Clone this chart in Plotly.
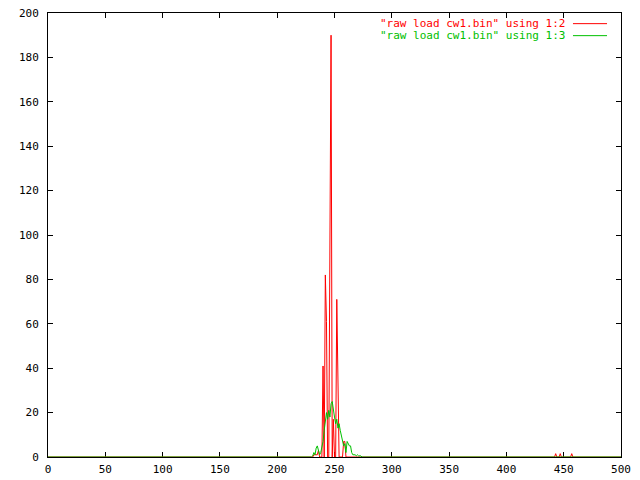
import plotly.graph_objects as go

# ---- data ----
red_x = [0, 231, 232, 233, 234, 235, 236, 237, 239, 240, 241, 242, 243, 244, 245, 246, 247, 248,
         249, 250, 251, 252, 253, 254, 257, 258, 259, 260, 442, 443, 444, 446, 447, 448, 456, 457, 458, 500]
red_y = [0, 0, 1, 1, 1, 1, 3, 0, 0, 41, 0, 82, 61, 0, 0, 95, 190, 0,
         17, 0, 0, 71, 36, 0, 0, 7, 7, 0, 0, 1.5, 0, 0, 1.5, 0, 0, 1.5, 0, 0]

green_x = [0, 230, 231, 232, 233, 234, 235, 236, 237, 238, 239, 240, 241, 242, 243, 244, 245, 246,
           247, 248, 249, 250, 251, 252, 253, 254, 255, 256, 257, 258, 259, 260, 261, 262, 263,
           264, 265, 266, 267, 268, 269, 270, 271, 272, 273, 274, 500]
green_y = [0, 0, 0.5, 2, 1, 4, 5, 3, 1, 2, 4, 7, 12, 16, 20, 17, 21, 18,
           24, 25, 20, 18, 15, 17, 13, 15, 12, 10, 8, 5, 6, 2, 7, 6, 5,
           5, 2, 1, 1, 1, 0.5, 1, 0.5, 0.5, 0.5, 0, 0]

series_names = ['"raw load cw1.bin" using 1:2', '"raw load cw1.bin" using 1:3']
x_ticks = [0, 50, 100, 150, 200, 250, 300, 350, 400, 450, 500]
y_ticks = [0, 20, 40, 60, 80, 100, 120, 140, 160, 180, 200]

RED = "#ff0000"
GREEN = "#00c000"
FONT = "DejaVu Sans Mono"

fig = go.Figure()
fig.add_trace(go.Scatter(x=red_x, y=red_y, mode="lines", line=dict(color=RED, width=1),
                         name=series_names[0], showlegend=False))
fig.add_trace(go.Scatter(x=green_x, y=green_y, mode="lines", line=dict(color=GREEN, width=1),
                         name=series_names[1], showlegend=False))

axis_common = dict(showline=True, mirror="ticks", linecolor="black", linewidth=1,
                   ticks="inside", ticklen=5, tickcolor="black", tickwidth=1,
                   showgrid=False, zeroline=False, layer="below traces", automargin=False,
                   ticklabeloverflow="allow",
                   tickfont=dict(family=FONT, size=11, color="black"))

# page body has an 8px margin, so the figure is 8px smaller and margins shifted
fig.update_layout(
    width=632, height=472,
    margin=dict(l=40, r=19, t=5, b=23),
    paper_bgcolor="white", plot_bgcolor="white",
    font=dict(family=FONT, size=11, color="black"),
    xaxis=dict(range=[0, 500], tickvals=x_ticks, ticktext=[str(v) for v in x_ticks],
               ticklabelstandoff=2, **axis_common),
    yaxis=dict(range=[0, 200], tickvals=y_ticks, ticktext=[str(v) for v in y_ticks],
               ticklabelstandoff=6, **axis_common),
)

# manual gnuplot-style legend (text then line sample)
legend_rows = [(series_names[0], RED, 0.976), (series_names[1], GREEN, 0.949)]
for name, col, yy in legend_rows:
    fig.add_annotation(x=0.9058, y=yy, xref="paper", yref="paper", text=name, showarrow=False,
                       xanchor="right", yanchor="middle", font=dict(family=FONT, size=11, color=col))
    fig.add_shape(type="line", xref="paper", yref="paper", x0=0.9162, x1=0.9756, y0=yy, y1=yy,
                  line=dict(color=col, width=1))

fig.write_html("out.html")
